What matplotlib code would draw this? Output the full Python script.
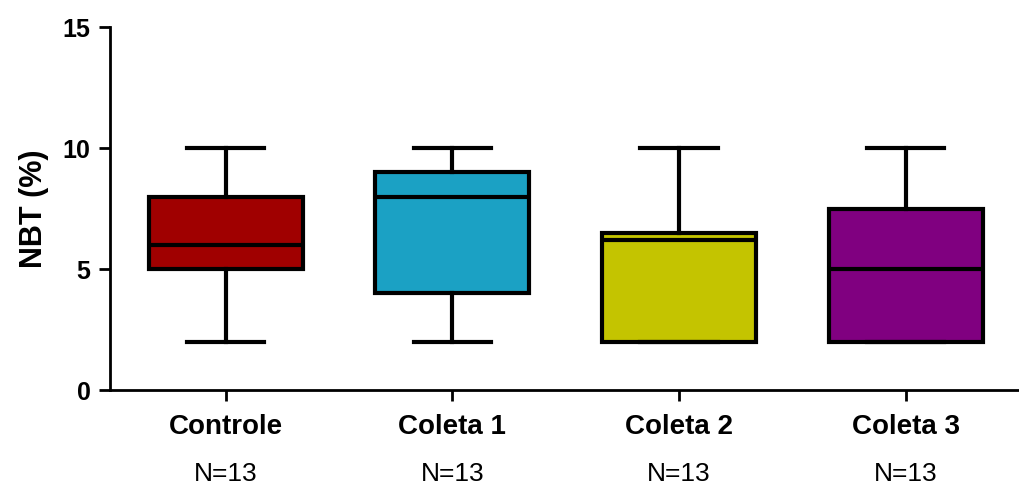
import matplotlib.pyplot as plt

# 数据
groups = ['Controle', 'Coleta 1', 'Coleta 2', 'Coleta 3']
n_labels = ['N=13', 'N=13', 'N=13', 'N=13']
mins = [2, 2, 2, 2]
q1s = [5, 4, 2, 2]
medians = [6, 8, 6.2, 5]
q3s = [8, 9, 6.5, 7.5]
maxs = [10, 10, 10, 10]
yticks = [0, 5, 10, 15]
colors = ['#A00000', '#1BA1C4', '#C4C400', '#800080']

plt.rcParams['font.family'] = ['Liberation Sans', 'DejaVu Sans']

fig = plt.figure(figsize=(10.19, 4.92), dpi=100)
ax = fig.add_axes([0.108, 0.207, 0.892, 0.738])

stats = []
for g, lo, a, m, b, hi in zip(groups, mins, q1s, medians, q3s, maxs):
    stats.append({'label': g, 'whislo': lo, 'q1': a, 'med': m, 'q3': b, 'whishi': hi})

lw = 3
bp = ax.bxp(stats, positions=[1, 2, 3, 4], widths=0.68, patch_artist=True, showfliers=False,
            capwidths=0.34,
            boxprops=dict(linewidth=lw, edgecolor='black'),
            medianprops=dict(linewidth=lw, color='black'),
            whiskerprops=dict(linewidth=lw, color='black'),
            capprops=dict(linewidth=lw, color='black'))
for box, c in zip(bp['boxes'], colors):
    box.set_facecolor(c)

ax.set_xlim(0.49, 4.5)
ax.set_ylim(0, 15)
ax.set_yticks(yticks, labels=[str(v) for v in yticks], fontsize=18, fontweight='bold')
ax.set_xticks([1, 2, 3, 4], labels=groups, fontsize=20, fontweight='bold')
for s in ['top', 'right']:
    ax.spines[s].set_visible(False)
for s in ['left', 'bottom']:
    ax.spines[s].set_linewidth(2)
ax.tick_params(axis='both', width=2, length=8)
ax.tick_params(axis='y', pad=6)
ax.tick_params(axis='x', pad=9)
ax.set_ylabel('NBT (%)', fontsize=22, fontweight='bold', labelpad=10)

for i, t in enumerate(n_labels):
    ax.text(i + 1, -0.23, t, transform=ax.get_xaxis_transform(), ha='center', va='center',
            fontsize=19)

fig.savefig('out.png', dpi=100)
